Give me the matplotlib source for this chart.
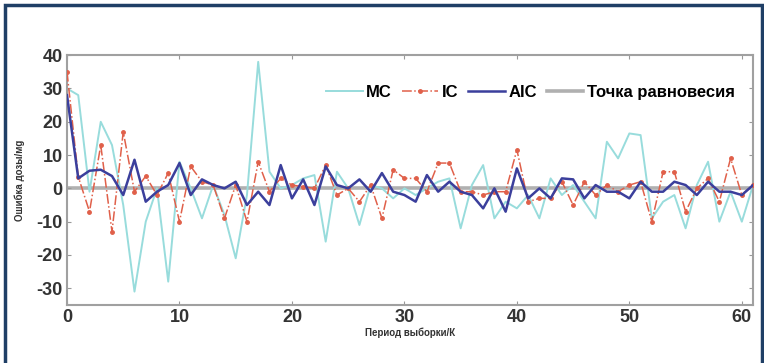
import matplotlib
matplotlib.use('Agg')
import matplotlib.pyplot as plt
from matplotlib.patches import Rectangle
import numpy as np

plt.rcParams['font.family'] = ['Liberation Sans', 'DejaVu Sans']
plt.rcParams['axes.unicode_minus'] = False

k = np.arange(0, 62)

mc = [30, 28, -1, 20, 13, -5, -31, -10, 0, -28,
      8, 0, -9, 1, -8, -21, -2, 38, 5, 0,
      1, 3, 4, -16, 5, 0, -11, 1, 0, -3,
      0, -2, 0, 2, 3, -12, 1, 7, -9, -4,
      -6, -2, -9, 3, -2, 1, -4, -9, 14, 9,
      16.5, 16, -9, -4, -2, -12, 1, 8, -10, -1,
      -10, 1]
ic = [35, 3.5, -7, 13, -13, 17, -1, 3.7, -2, 4.6,
      -10, 6.6, 2, 1, -9, 1, -10, 8, -1, 3,
      1, 0.5, 0, 7, -2, 0, -4, 1, -9, 5.6,
      3, 3, -1, 7.6, 7.6, -1, -1, -2, -1, -1,
      11.6, -4, -3, -3, 2, -5, 2, -2, 1, -1,
      1, 2, -10, 5, 5, -7, 0, 3, -4, 9,
      -2, 1]
aic = [28, 3, 5.3, 5.6, 3.7, -2, 8.6, -4, -1, 1,
       7.6, -2, 2.7, 1, 0, 2, -5, -1, -5, 7,
       -3, 2.7, -5, 6.6, 1, 0, 2.7, -1, 4.6, -1,
       -2, -4, 4, -1, 2, -1, -2, -6, 0, -7,
       6, -3, 0, -3, 3, 2.7, -3, 1, -1, -1,
       -3, 2, -1, -1, 2, 1, -2, 2, -1, -1,
       -2, 1]
equil = [0] * len(k)

fig = plt.figure(figsize=(7.64, 3.63), dpi=100)
fig.add_artist(Rectangle((0.006, -0.1), 0.991, 1.086, transform=fig.transFigure,
                         fill=False, edgecolor='#1f3f66', linewidth=2.5))
ax = fig.add_axes([0.0877, 0.160, 0.898, 0.688])

ax.plot(k, equil, color='#b0b0b0', linewidth=2.6, label='Точка равновесия', zorder=1)
ax.plot(k, mc, color='#98dcdc', linewidth=1.4, label='MC', zorder=2)
ax.plot(k, ic, color='#e0604a', linestyle='-.', linewidth=1.1, marker='.',
        markersize=5, label='IC', zorder=3)
ax.plot(k, aic, color='#3b3f9c', linewidth=1.8, label='AIC', zorder=4)

ax.set_xlim(0, 61)
ax.set_ylim(-35, 40)
ax.set_xticks(range(0, 61, 10))
ax.set_yticks(range(-30, 41, 10))
ax.tick_params(direction='in', top=True, right=True, length=3, color='#999999',
               labelsize=13, labelcolor='#333333', pad=3)
for lbl in ax.get_xticklabels() + ax.get_yticklabels():
    lbl.set_fontweight('bold')
for s in ax.spines.values():
    s.set_color('#a0a0a0')
    s.set_linewidth(1.5)

ax.set_xlabel('Период выборки/К', fontsize=7, fontweight='bold', color='#333333', labelpad=1)
ax.set_ylabel('Ошибка дозы/мg', fontsize=7, fontweight='bold', color='#333333', labelpad=8)

h, l = ax.get_legend_handles_labels()
order = [1, 2, 3, 0]
ax.legend([h[i] for i in order], [l[i] for i in order], loc='upper right', ncol=4,
          frameon=False, bbox_to_anchor=(0.995, 0.94), handlelength=2.2, columnspacing=0.6,
          handletextpad=0.2, prop={'weight': 'bold', 'size': 12})

fig.savefig('out.png', dpi=100)
